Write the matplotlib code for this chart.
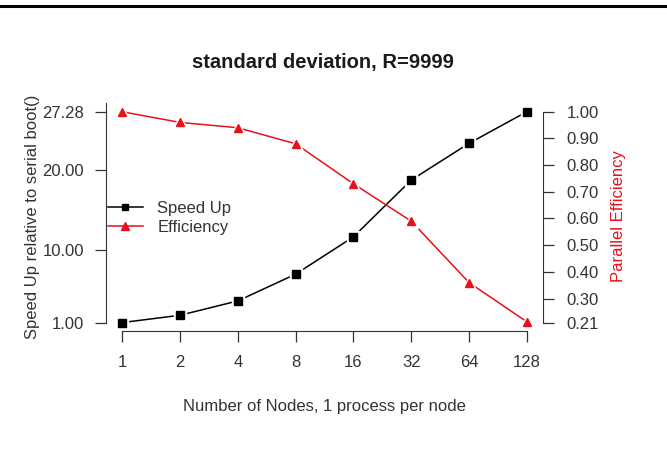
import numpy as np
import matplotlib
matplotlib.use("Agg")
import matplotlib.pyplot as plt
from matplotlib.lines import Line2D

plt.rcParams['font.family'] = ['Liberation Sans', 'DejaVu Sans']

nodes = [1, 2, 4, 8, 16, 32, 64, 128]
speedup = [1.0, 1.91, 3.70, 7.03, 11.68, 18.76, 23.34, 27.28]
efficiency = [1.0, 0.96, 0.94, 0.88, 0.73, 0.59, 0.36, 0.213]
left_ticks = [1.0, 10.0, 20.0, 27.28]
right_ticks = [1.00, 0.90, 0.80, 0.70, 0.60, 0.50, 0.40, 0.30, 0.21]

title = "standard deviation, R=9999"
xlabel = "Number of Nodes, 1 process per node"
ylabel_left = "Speed Up relative to serial boot()"
ylabel_right = "Parallel Efficiency"

W, H = 667, 461
fig = plt.figure(figsize=(W / 100, H / 100), dpi=100)
fig.patch.set_facecolor('white')

# top black rule
fig.add_artist(Line2D([0, 1], [1 - 6 / H, 1 - 6 / H], color='black', lw=2.2,
                      transform=fig.transFigure))

left, right, top, bottom = 106, 543, 103.3, 331
ax = fig.add_axes([left / W, 1 - bottom / H, (right - left) / W, (bottom - top) / H])
ax2 = ax.twinx()

xpos = np.log2(nodes)
txtc = '#333333'
fs = 12

def pad(lo, hi):
    r = hi - lo
    return lo - 0.04 * r, hi + 0.04 * r

ax.set_xlim(*pad(xpos.min(), xpos.max()))
ax.set_ylim(*pad(min(left_ticks), max(left_ticks)))
ax2.set_ylim(*pad(min(right_ticks), max(right_ticks)))

# speed up (black, type b)
ax.plot(xpos, speedup, color='black', lw=1.1, zorder=2)
ax.plot(xpos, speedup, ls='none', marker='s', ms=9, color='white', zorder=3)
ax.plot(xpos, speedup, ls='none', marker='s', ms=5.2, color='black', zorder=4)

# efficiency (red, type b)
red = '#e8101a'
ax2.plot(xpos, efficiency, color=red, lw=1.1, zorder=2)
ax2.plot(xpos, efficiency, ls='none', marker='^', ms=10, color='white', zorder=3)
ax2.plot(xpos, efficiency, ls='none', marker='^', ms=6, color=red, zorder=4)

for a in (ax, ax2):
    a.patch.set_visible(False)
    for s in a.spines.values():
        s.set_visible(False)

ax.set_xticks(xpos)
ax.set_xticklabels([str(n) for n in nodes])
ax.spines['bottom'].set_visible(True)
ax.spines['bottom'].set_bounds(xpos.min(), xpos.max())
ax.spines['bottom'].set_color(txtc)
ax.spines['left'].set_visible(True)
ax.spines['left'].set_bounds(min(left_ticks), ax.get_ylim()[1])
ax.spines['left'].set_color(txtc)
ax.set_yticks(left_ticks)
ax.set_yticklabels([f"{v:.2f}" for v in left_ticks])
ax.tick_params(axis='both', colors=txtc, labelcolor=txtc, labelsize=fs,
               length=8, width=0.9, direction='out', pad=8)
ax.tick_params(axis='x', pad=9)

ax2.spines['right'].set_visible(True)
ax2.spines['right'].set_bounds(min(right_ticks), max(right_ticks))
ax2.spines['right'].set_color(txtc)
ax2.set_yticks(right_ticks)
ax2.set_yticklabels([f"{v:.2f}" for v in right_ticks])
ax2.tick_params(axis='y', colors=txtc, labelcolor=txtc, labelsize=fs,
                length=8, width=0.9, direction='out', pad=9)

fig.text(323 / W, 1 - 62 / H, title, ha='center', va='center',
         fontsize=14.5, fontweight='bold', color='#1a1a1a')
fig.text(324 / W, 1 - 406 / H, xlabel, ha='center', va='center',
         fontsize=fs, color=txtc)
fig.text(33 / W, 1 - 217 / H, ylabel_left, ha='center', va='center',
         rotation=90, fontsize=fs, color=txtc)
fig.text(618 / W, 1 - 216 / H, ylabel_right, ha='center', va='center',
         rotation=90, fontsize=fs, color=red)

handles = [Line2D([], [], color='black', lw=1.1, marker='s', ms=5),
           Line2D([], [], color=red, lw=1.1, marker='^', ms=5.5)]
leg = fig.legend(handles, ["Speed Up", "Efficiency"], loc='center left',
                 bbox_to_anchor=(108 / W, 1 - 218 / H), frameon=False,
                 fontsize=fs, handlelength=2.1, handletextpad=0.85,
                 labelspacing=0.2, borderpad=0, borderaxespad=0)
for t in leg.get_texts():
    t.set_color(txtc)

fig.savefig('out.png', dpi=100, facecolor='white')
